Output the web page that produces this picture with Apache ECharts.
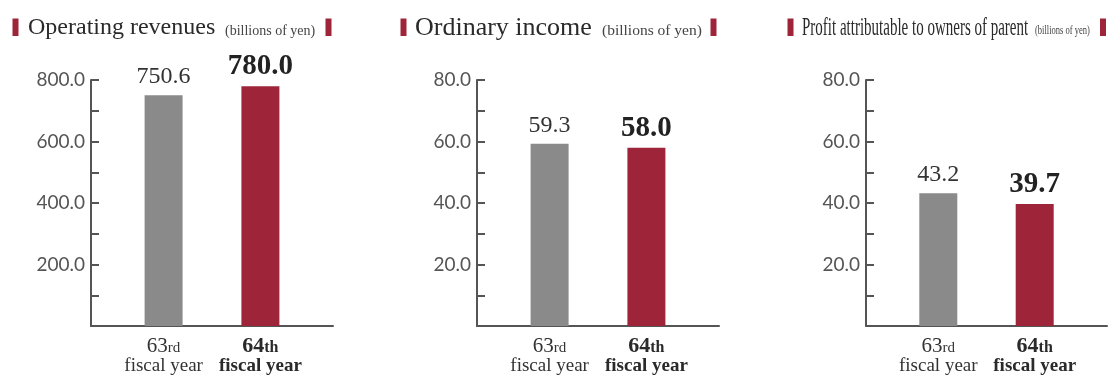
<!DOCTYPE html>
<html>
<head>
<meta charset="utf-8">
<script src="https://cdn.jsdelivr.net/npm/echarts@6/dist/echarts.min.js"></script>
<style>
html,body{margin:0;padding:0;background:#fff;}
#main{width:1108px;height:376px;}
</style>
</head>
<body>
<div id="main"></div>
<script>
// 決算ハイライト 3 panels
var categories = ['63rd', '64th'];
var revenues = [750.6, 780.0];
var ordinaryIncome = [59.3, 58.0];
var profit = [43.2, 39.7];
var yMax = [800, 80, 80];
var yStep = [200, 20, 20];
var titles = ['Operating revenues', 'Ordinary income', 'Profit attributable to owners of parent'];
var unitText = '(billions of yen)';

var RED = '#9e2439', GRAY = '#8a8a8a';
var SERIF = '"Liberation Serif", "Times New Roman", serif';

var panels = [
	{left: 91, width: 242, data: revenues},
	{left: 477, width: 242, data: ordinaryIncome},
	{left: 866, width: 241, data: profit}
];

// 5 slots so the two bars sit at 2nd and 4th position
var slots = ['', categories[0], '', categories[1], ''];

function makeData(vals){
	var out = ['-', null, '-', null, '-'];
	out[1] = {value: vals[0], itemStyle: {color: GRAY},
		label: {fontSize: 24, fontWeight: 'normal', color: '#333', distance: 6}};
	out[3] = {value: vals[1], itemStyle: {color: RED},
		label: {fontSize: 29, fontWeight: 'bold', color: '#222', distance: 5}};
	return out;
}

var grids = [], xAxes = [], yAxes = [], series = [];
for(var i=0;i<panels.length;i++){
	var p = panels[i];
	grids.push({left: p.left, width: p.width, top: 80, height: 246});
	xAxes.push({
		type: 'category', gridIndex: i, data: slots,
		axisLine: {lineStyle: {color: '#555', width: 2}},
		axisTick: {show: false},
		axisLabel: {
			interval: 0, margin: 12,
			formatter: function(v, idx){
				if(v === '') return '';
				var m = v.match(/^(\d+)(\D+)$/);
				if(idx === 3) return '{nb|' + m[1] + '}{sb|' + m[2] + '}\n{fb|fiscal year}';
				return '{n|' + m[1] + '}{s|' + m[2] + '}\n{f|fiscal year}';
			},
			rich: {
				n: {fontFamily: SERIF, fontSize: 21, color: '#333', lineHeight: 19, verticalAlign: 'bottom'},
				s: {fontFamily: SERIF, fontSize: 15, color: '#333', lineHeight: 15, verticalAlign: 'bottom', padding: [0, 0, 1, 0]},
				f: {fontFamily: SERIF, fontSize: 19, color: '#333', lineHeight: 18},
				nb: {fontFamily: SERIF, fontSize: 22, fontWeight: 'bold', color: '#2a2a2a', lineHeight: 19, verticalAlign: 'bottom'},
				sb: {fontFamily: SERIF, fontSize: 16, fontWeight: 'bold', color: '#2a2a2a', lineHeight: 15, verticalAlign: 'bottom', padding: [0, 0, 1, 0]},
				fb: {fontFamily: SERIF, fontSize: 19, fontWeight: 'bold', color: '#2a2a2a', lineHeight: 18}
			}
		}
	});
	yAxes.push({
		type: 'value', gridIndex: i, min: 0, max: yMax[i], interval: yStep[i],
		axisLine: {show: true, lineStyle: {color: '#555', width: 2}},
		axisTick: {show: true, inside: true, length: 8, lineStyle: {color: '#555', width: 2}},
		minorTick: {show: true, splitNumber: 2, length: 8, lineStyle: {color: '#555', width: 2}},
		splitLine: {show: false},
		axisLabel: {
			showMinLabel: false, margin: 6, color: '#555',
			fontFamily: 'Lato, "Noto Sans", sans-serif', fontSize: 19,
			formatter: function(v){ return v.toFixed(1); }
		}
	});
	series.push({
		type: 'bar', xAxisIndex: i, yAxisIndex: i,
		data: makeData(p.data), barWidth: 38,
		label: {show: true, position: 'top', fontFamily: SERIF,
			formatter: function(d){ return Number(d.value).toFixed(1); }}
	});
}

// titles with red marks on both sides
function titleGroup(opt){
	var els = [];
	els.push({type: 'rect', shape: {x: opt.m1, y: 18.5, width: 6, height: 17.5}, style: {fill: RED}});
	els.push({type: 'rect', shape: {x: opt.m2, y: 18.5, width: 6, height: 17.5}, style: {fill: RED}});
	els.push({type: 'text', x: opt.tx, y: 28, scaleX: opt.sx || 1,
		style: {text: opt.text, fontFamily: SERIF, fontSize: opt.fs, fill: '#2a2a2a', verticalAlign: 'middle'}});
	els.push({type: 'text', x: opt.ux, y: 31, scaleX: opt.usx || 1,
		style: {text: unitText, fontFamily: SERIF, fontSize: opt.ufs, fill: '#444', verticalAlign: 'middle'}});
	return els;
}
var graphics = []
	.concat(titleGroup({text: titles[0], m1: 12.5, m2: 325.5, tx: 28, fs: 24, ux: 225, ufs: 14}))
	.concat(titleGroup({text: titles[1], m1: 400.5, m2: 710.5, tx: 415, fs: 26, ux: 602, ufs: 15.5}))
	.concat(titleGroup({text: titles[2], m1: 787.5, m2: 1100, tx: 802, fs: 25, sx: 0.6, ux: 1035, ufs: 12, usx: 0.71}));

var myChart = echarts.init(document.getElementById('main'));
myChart.setOption({
	animation: false,
	grid: grids,
	xAxis: xAxes,
	yAxis: yAxes,
	series: series,
	graphic: graphics
});
</script>
</body>
</html>
